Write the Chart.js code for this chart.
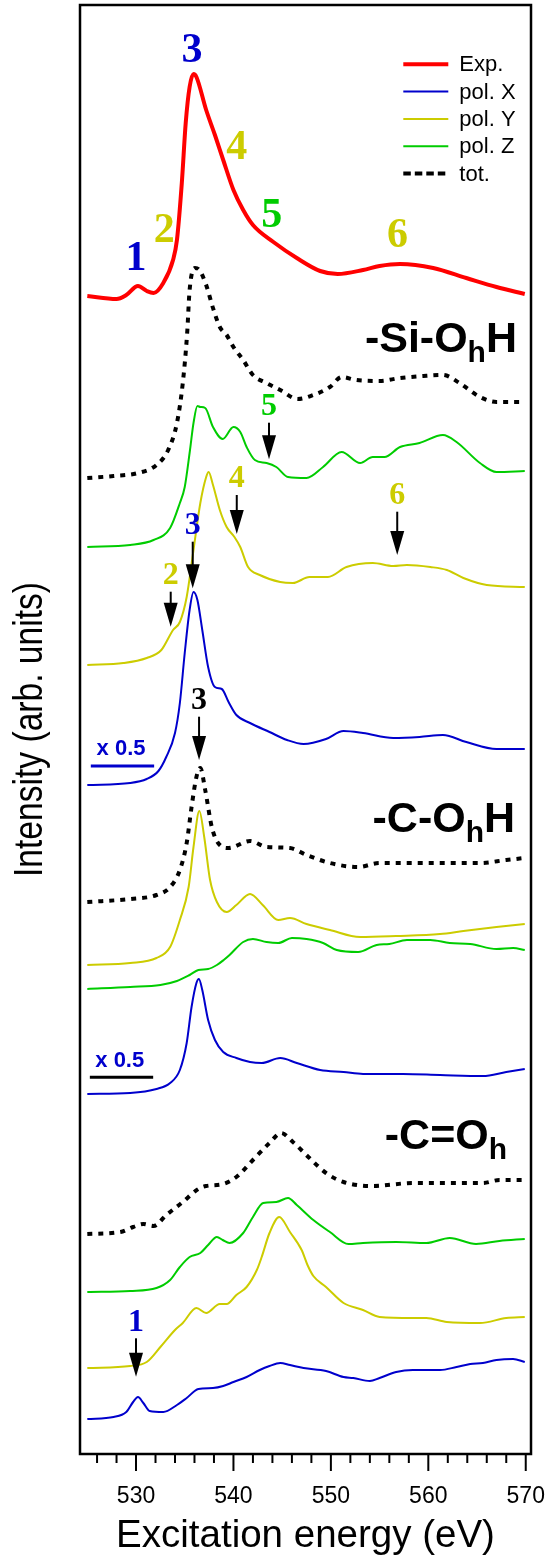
<!DOCTYPE html>
<html>
<head>
<meta charset="utf-8">
<script src="https://cdn.jsdelivr.net/npm/chart.js@4.4.0/dist/chart.umd.min.js"></script>
<style>
  html, body { margin: 0; padding: 0; background: #ffffff; }
  canvas { display: block; }
</style>
</head>
<body>
<canvas id="c" width="548" height="1556"></canvas>
<script>
// ---- Energy axis (eV) ----
const energyMin = 524.25;
const energyMax = 570.54;
const energyTicks = [526, 528, 530, 532, 534, 536, 538, 540, 542, 544, 546, 548, 550, 552, 554, 556, 558, 560, 562, 564, 566, 568, 570];
const labeledTicks = [530, 540, 550, 560, 570];

// ---- Experimental O K-edge spectrum ----
const expE = [525.0, 528.0, 529.0, 530.2, 531.1, 531.8, 532.8, 533.8, 534.2, 534.7, 535.1, 535.5, 535.9, 536.2, 537.2, 538.1, 538.95, 540.0, 541.0, 542.0, 544.1, 546.5, 548.9, 550.7, 553.3, 555.0, 557.1, 560.5, 563.9, 567.0, 569.9];
const expI = [0, -3, 1, 10, 5, 3, 13, 36, 56, 113, 173, 209, 222, 219, 186, 161, 136, 106, 86, 71, 54, 38, 25, 22, 26, 30, 32, 28, 18, 9, 2];
const expOffset = 1158;

// ---- -Si-OhH : total and polarisations ----
const siTotE = [525.0, 527.7, 530.2, 532.1, 533.3, 534.2, 534.8, 535.25, 535.5, 536.05, 536.5, 537.2, 537.9, 538.6, 539.3, 540.0, 541.0, 542.0, 543.4, 544.8, 546.6, 548.2, 549.9, 551.1, 552.6, 555.0, 557.1, 559.5, 561.5, 563.2, 565.3, 567.0, 569.9];
const siTotI = [0, 2, 5, 13, 28, 55, 95, 145, 188, 210, 208, 193, 170, 151, 143, 131, 118, 103, 95, 88, 79, 83, 91, 101, 98, 97, 100, 102, 103, 95, 81, 76, 76];
const siTotOffset = 976;

const siZE = [525.0, 529.4, 531.8, 533.5, 534.5, 535.0, 535.54, 535.9, 536.3, 536.6, 537.1, 537.9, 538.9, 540.0, 540.7, 541.35, 542.2, 543.4, 544.4, 545.6, 547.5, 549.2, 551.1, 553.0, 554.3, 555.5, 557.1, 559.1, 561.5, 562.9, 565.3, 567.0, 569.9];
const siZI = [0, 2, 7, 19, 44, 60, 97, 124, 141, 140, 139, 120, 108, 120, 115, 100, 87, 84, 80, 70, 69, 80, 95, 84, 90, 90, 100, 104, 112, 105, 84, 75, 76];
const siZOffset = 907;

const siYE = [525.0, 528.7, 531.1, 532.6, 533.8, 534.5, 535.2, 535.9, 536.6, 537.2, 537.45, 537.9, 538.6, 539.3, 540.1, 540.7, 541.5, 542.7, 544.8, 546.1, 547.8, 549.7, 551.6, 554.3, 556.4, 557.8, 560.2, 561.9, 563.6, 566.0, 569.9];
const siYI = [0, 2, 7, 15, 35, 43, 68, 115, 162, 188, 193, 180, 155, 138, 128, 118, 98, 90, 83, 82, 88, 88, 98, 102, 99, 100, 98, 95, 87, 80, 78];
const siYOffset = 789;

const siXE = [525.0, 529.4, 531.1, 532.3, 533.1, 534.0, 534.5, 535.0, 535.5, 535.9, 536.3, 536.8, 537.4, 538.1, 538.8, 539.5, 540.3, 541.7, 543.7, 545.5, 547.2, 549.5, 551.3, 553.3, 556.4, 559.1, 561.5, 563.9, 567.0, 569.9];
const siXI = [0, 2, 6, 14, 28, 52, 82, 132, 175, 193, 185, 155, 118, 98, 96, 83, 70, 62, 53, 45, 41, 46, 54, 52, 47, 48, 50, 43, 36, 36];
const siXOffset = 669;

// ---- -C-OhH : total and polarisations ----
const cTotE = [525.0, 529.4, 532.1, 533.5, 534.5, 535.2, 535.7, 536.2, 536.6, 537.1, 537.8, 538.6, 539.5, 541.7, 543.4, 545.8, 547.5, 549.9, 552.8, 555.0, 558.4, 561.9, 565.3, 568.0, 569.9];
const cTotI = [0, 3, 7, 15, 32, 59, 95, 125, 134, 112, 74, 57, 54, 61, 55, 54, 47, 39, 35, 39, 39, 39, 39, 42, 44];
const cTotOffset = 552;

const cYE = [525.0, 529.4, 532.1, 533.5, 534.5, 535.4, 535.9, 536.5, 537.0, 537.6, 538.3, 539.3, 540.3, 541.7, 543.0, 544.6, 545.8, 547.5, 549.9, 553.0, 556.7, 561.2, 563.6, 567.0, 569.9];
const cYI = [0, 2, 7, 18, 45, 78, 118, 154, 128, 85, 63, 53, 60, 71, 60, 45, 47, 41, 35, 28, 29, 31, 34, 38, 41];
const cYOffset = 489;

const cZE = [525.0, 529.4, 532.5, 534.2, 535.5, 536.4, 537.4, 538.3, 539.0, 539.6, 541.0, 542.0, 543.4, 544.6, 546.0, 547.5, 549.2, 550.6, 552.8, 554.7, 556.0, 557.8, 560.2, 562.2, 564.3, 567.0, 568.7, 569.9];
const cZI = [0, 2, 4, 8, 14, 19, 20, 24, 29, 34, 47, 50, 47, 46, 51, 50, 46, 39, 37, 44, 45, 49, 49, 46, 45, 40, 41, 39];
const cZOffset = 465;

const cXE = [525.0, 529.4, 532.1, 533.5, 534.5, 535.2, 535.7, 536.2, 536.45, 536.8, 537.4, 538.1, 538.95, 540.3, 541.7, 542.9, 544.8, 546.5, 548.9, 551.3, 553.3, 557.4, 561.2, 565.6, 568.0, 569.9];
const cXI = [0, 1, 5, 11, 24, 51, 87, 111, 115, 104, 74, 54, 42, 36, 32, 31, 36, 31, 24, 22, 20, 20, 19, 18, 22, 25];
const cXOffset = 360;

// ---- -C=Oh : total and polarisations ----
const coTotE = [525.0, 528.4, 529.7, 530.75, 531.8, 533.1, 534.8, 536.4, 537.2, 538.95, 540.3, 542.0, 543.7, 544.9, 546.1, 547.8, 549.5, 551.3, 554.3, 558.4, 561.9, 565.6, 567.3, 569.9];
const coTotI = [0, 2, 7, 10, 8, 19, 32, 45, 48, 50, 57, 74, 91, 101, 92, 76, 61, 52, 48, 51, 51, 51, 54, 54];
const coTotOffset = 220;

const coZE = [525.0, 529.4, 532.1, 533.5, 534.5, 535.5, 536.6, 537.4, 538.3, 538.9, 539.6, 541.0, 542.0, 543.05, 544.4, 545.6, 546.5, 548.2, 549.9, 551.8, 553.3, 556.7, 559.8, 562.2, 564.9, 567.3, 569.9];
const coZI = [0, 1, 4, 12, 25, 35, 39, 47, 55, 52, 49, 59, 75, 89, 90, 94, 87, 72, 60, 48, 49, 50, 49, 54, 48, 51, 53];
const coZOffset = 162;

const coYE = [525.0, 529.4, 531.1, 532.5, 534.0, 534.8, 536.2, 537.2, 538.6, 539.3, 540.3, 541.35, 542.4, 542.9, 543.7, 544.7, 545.8, 547.0, 547.6, 548.2, 549.5, 551.3, 553.3, 555.0, 558.4, 559.8, 561.9, 565.3, 568.0, 569.9];
const coYI = [0, 2, 6, 21, 38, 45, 60, 55, 64, 64, 73, 81, 98, 111, 135, 151, 136, 118, 103, 92, 81, 65, 58, 51, 50, 50, 46, 45, 50, 51];
const coYOffset = 86;

const coXE = [525.0, 527.7, 529.0, 529.7, 530.2, 530.75, 531.4, 532.8, 534.2, 535.2, 536.4, 537.9, 538.95, 540.0, 541.35, 542.7, 543.7, 544.8, 545.8, 547.2, 549.5, 551.3, 552.3, 554.0, 555.0, 556.7, 558.4, 561.2, 562.9, 564.3, 565.6, 567.0, 568.7, 569.9];
const coXI = [0, 2, 7, 17, 22, 16, 8, 7, 14, 21, 30, 31, 33, 37, 42, 49, 53, 56, 54, 51, 48, 42, 41, 38, 41, 47, 49, 49, 52, 55, 56, 59, 60, 57];
const coXOffset = 35;

// ---- Feature labels on the experimental curve: [text, energy, intensity level] ----
const expPeakLabels = [
  ['1', 530.0, 1198], ['2', 532.91, 1226], ['3', 535.75, 1406],
  ['4', 540.34, 1309], ['5', 543.92, 1241.5], ['6', 556.84, 1221.5]
];
// ---- Arrow markers: [text, energy, arrow top level, arrow tip level] ----
const arrowMarks = [
  ['5', 543.65, 1031.3, 994.7],
  ['4', 540.34, 959, 920],
  ['6', 556.81, 942.3, 899],
  ['3', 535.82, 912.3, 865.7],
  ['2', 533.56, 862.3, 827.3],
  ['3', 536.47, 737.3, 694],
  ['1', 530.0, 115.7, 77.3]
];

const yAxisTitle = 'Intensity (arb. units)';

// ---- Colours ----
const RED = '#ff0000', BLUE = '#0000cc', YELLOW = '#cccc00', GREEN = '#00cc00', BLACK = '#000000';
const digitColor = { '1': BLUE, '2': YELLOW, '3': BLUE, '4': YELLOW, '5': GREEN, '6': YELLOW };
const arrowLabelColors = [GREEN, YELLOW, YELLOW, BLUE, YELLOW, BLACK, BLUE];

function series(E, I, offset) {
  return E.map((e, i) => ({ x: e, y: offset + I[i] }));
}

function lineSet(label, E, I, offset, color, width, dash) {
  return {
    label: label,
    data: series(E, I, offset),
    borderColor: color,
    backgroundColor: color,
    borderWidth: width,
    borderDash: dash || [],
    pointRadius: 0,
    fill: false,
    cubicInterpolationMode: 'monotone',
    borderCapStyle: 'butt',
    borderJoinStyle: 'round'
  };
}

const DOT = [5, 6];
const datasets = [
  lineSet('Exp.', expE, expI, expOffset, RED, 4),
  lineSet('tot.', siTotE, siTotI, siTotOffset, BLACK, 4, DOT),
  lineSet('pol. Z', siZE, siZI, siZOffset, GREEN, 2),
  lineSet('pol. Y', siYE, siYI, siYOffset, YELLOW, 2),
  lineSet('pol. X', siXE, siXI, siXOffset, BLUE, 2),
  lineSet('tot.', cTotE, cTotI, cTotOffset, BLACK, 4, DOT),
  lineSet('pol. Y', cYE, cYI, cYOffset, YELLOW, 2),
  lineSet('pol. Z', cZE, cZI, cZOffset, GREEN, 2),
  lineSet('pol. X', cXE, cXI, cXOffset, BLUE, 2),
  lineSet('tot.', coTotE, coTotI, coTotOffset, BLACK, 4, DOT),
  lineSet('pol. Z', coZE, coZI, coZOffset, GREEN, 2),
  lineSet('pol. Y', coYE, coYI, coYOffset, YELLOW, 2),
  lineSet('pol. X', coXE, coXI, coXOffset, BLUE, 2)
];

// Legend entries in drawing order (first dataset carrying each label)
const legendOrder = ['Exp.', 'pol. X', 'pol. Y', 'pol. Z', 'tot.'];

const SANS = '"Liberation Sans", Arial, Helvetica, sans-serif';
const SERIF = '"Liberation Serif", "Times New Roman", serif';

function drawDigit(ctx, text, x, yCenter, size, color) {
  ctx.font = 'bold ' + size + 'px ' + SERIF;
  ctx.fillStyle = color;
  ctx.textAlign = 'center';
  ctx.textBaseline = 'alphabetic';
  ctx.fillText(text, x, yCenter + 0.34 * size);
}

function drawArrow(ctx, x, yTop, yTip) {
  const headLen = 24, headHalf = 7;
  ctx.strokeStyle = BLACK;
  ctx.fillStyle = BLACK;
  ctx.lineWidth = 2;
  ctx.setLineDash([]);
  ctx.beginPath();
  ctx.moveTo(x, yTop);
  ctx.lineTo(x, yTip - headLen + 2);
  ctx.stroke();
  ctx.beginPath();
  ctx.moveTo(x - headHalf, yTip - headLen);
  ctx.lineTo(x + headHalf, yTip - headLen);
  ctx.lineTo(x, yTip);
  ctx.closePath();
  ctx.fill();
}

function drawGroupName(ctx, parts, xRight, yBase) {
  const mainFont = 'bold 43px ' + SANS;
  const subFont = 'bold 30px ' + SANS;
  const widths = parts.map(p => { ctx.font = p[1] ? subFont : mainFont; return ctx.measureText(p[0]).width; });
  let x = xRight - widths.reduce((s, w) => s + w, 0);
  ctx.fillStyle = BLACK;
  ctx.textAlign = 'left';
  ctx.textBaseline = 'alphabetic';
  parts.forEach((p, i) => {
    ctx.font = p[1] ? subFont : mainFont;
    ctx.fillText(p[0], x, yBase + (p[1] ? 10 : 0));
    x += widths[i];
  });
}

const decorPlugin = {
  id: 'spectraDecor',
  afterDatasetsDraw(chart) {
    const ctx = chart.ctx;
    const a = chart.chartArea;
    const xs = chart.scales.x, ys = chart.scales.y;
    const px = e => xs.getPixelForValue(e);
    const py = v => ys.getPixelForValue(v);
    ctx.save();

    // frame
    ctx.strokeStyle = BLACK;
    ctx.lineWidth = 2.5;
    ctx.setLineDash([]);
    ctx.strokeRect(a.left, a.top, a.right - a.left, a.bottom - a.top);

    // energy tick marks below the frame
    ctx.lineWidth = 2;
    energyTicks.forEach(t => {
      const x = px(t);
      const len = labeledTicks.includes(t) ? 17 : 9;
      ctx.beginPath();
      ctx.moveTo(x, a.bottom);
      ctx.lineTo(x, a.bottom + len);
      ctx.stroke();
    });

    // narrow vertical axis title, centred on the intensity axis
    ctx.save();
    ctx.translate(41.7, (ys.top + ys.bottom) / 2);
    ctx.rotate(-Math.PI / 2);
    ctx.scale(0.84, 1);
    ctx.font = '40px ' + SANS;
    ctx.fillStyle = BLACK;
    ctx.textAlign = 'center';
    ctx.textBaseline = 'alphabetic';
    ctx.fillText(yAxisTitle, 0, 0);
    ctx.restore();

    // peak numbers on the experimental spectrum
    expPeakLabels.forEach(([t, e, v]) => drawDigit(ctx, t, px(e), py(v), 42, digitColor[t]));

    // arrows with their numbers
    arrowMarks.forEach(([t, e, top, tip], i) => {
      const x = px(e), yTop = py(top), yTip = py(tip);
      drawArrow(ctx, x, yTop, yTip);
      drawDigit(ctx, t, x, yTop - 18.5, 32, arrowLabelColors[i]);
    });

    // species names
    drawGroupName(ctx, [['-Si-O', false], ['h', true], ['H', false]], px(569.1), py(1102));
    drawGroupName(ctx, [['-C-O', false], ['h', true], ['H', false]], px(568.9), py(622.3));
    drawGroupName(ctx, [['-C=O', false], ['h', true]], px(568.08), py(304.7));

    // "x 0.5" scale notes with their bars
    const scaleNotes = [
      { e: 528.46, v: 706.5, textColor: BLUE, barColor: BLUE, e0: 525.36, e1: 531.86, bv: 688 },
      { e: 528.33, v: 395.3, textColor: BLUE, barColor: BLACK, e0: 525.26, e1: 531.76, bv: 376.7 }
    ];
    scaleNotes.forEach(n => {
      ctx.font = 'bold 22px ' + SANS;
      ctx.fillStyle = n.textColor;
      ctx.textAlign = 'center';
      ctx.textBaseline = 'alphabetic';
      ctx.fillText('x 0.5', px(n.e), py(n.v) + 0.36 * 22);
      ctx.strokeStyle = n.barColor;
      ctx.lineWidth = 3;
      ctx.beginPath();
      ctx.moveTo(px(n.e0), py(n.bv));
      ctx.lineTo(px(n.e1), py(n.bv));
      ctx.stroke();
    });

    // legend
    const lx0 = a.left + 323.3, lx1 = a.left + 368.3, tx = a.left + 379.3;
    legendOrder.forEach((lab, i) => {
      const ds = chart.data.datasets.find(d => d.label === lab);
      const y = a.top + 59.3 + 27.3 * i;
      ctx.strokeStyle = ds.borderColor;
      ctx.lineWidth = ds.borderWidth;
      ctx.setLineDash(ds.borderDash.length ? [7.5, 4] : []);
      ctx.beginPath();
      ctx.moveTo(lx0, y);
      ctx.lineTo(lx1, y);
      ctx.stroke();
      ctx.setLineDash([]);
      ctx.font = '22px ' + SANS;
      ctx.fillStyle = BLACK;
      ctx.textAlign = 'left';
      ctx.textBaseline = 'middle';
      ctx.fillText(lab, tx, y + 1);
    });

    ctx.restore();
  }
};

new Chart(document.getElementById('c'), {
  type: 'line',
  data: { datasets: datasets },
  options: {
    responsive: false,
    devicePixelRatio: 1,
    animation: false,
    events: [],
    layout: { padding: { left: 0, right: 17, top: 5, bottom: 0 } },
    plugins: { legend: { display: false }, tooltip: { enabled: false } },
    scales: {
      x: {
        type: 'linear',
        min: energyMin,
        max: energyMax,
        afterBuildTicks(scale) { scale.ticks = energyTicks.map(v => ({ value: v })); },
        afterFit(scale) {
          scale.height = 102;
          scale.paddingLeft = 0;
          scale.paddingRight = 0;
        },
        grid: { display: false, drawTicks: true, tickLength: 17 },
        border: { display: false },
        ticks: {
          autoSkip: false,
          maxRotation: 0,
          padding: 12,
          color: BLACK,
          font: { family: SANS, size: 23 },
          callback: v => labeledTicks.includes(v) ? String(v) : ''
        },
        title: {
          display: true,
          text: 'Excitation energy (eV)',
          color: BLACK,
          font: { family: SANS, size: 38.5, lineHeight: 1 },
          padding: { top: 0, bottom: 0 }
        }
      },
      y: {
        type: 'linear',
        min: 0,
        max: 1449,
        afterFit(scale) {
          scale.width = 80;
          scale.paddingTop = 0;
          scale.paddingBottom = 0;
        },
        grid: { display: false, drawTicks: false },
        border: { display: false },
        ticks: { display: false },
        title: { display: false }
      }
    }
  },
  plugins: [decorPlugin]
});
</script>
</body>
</html>
